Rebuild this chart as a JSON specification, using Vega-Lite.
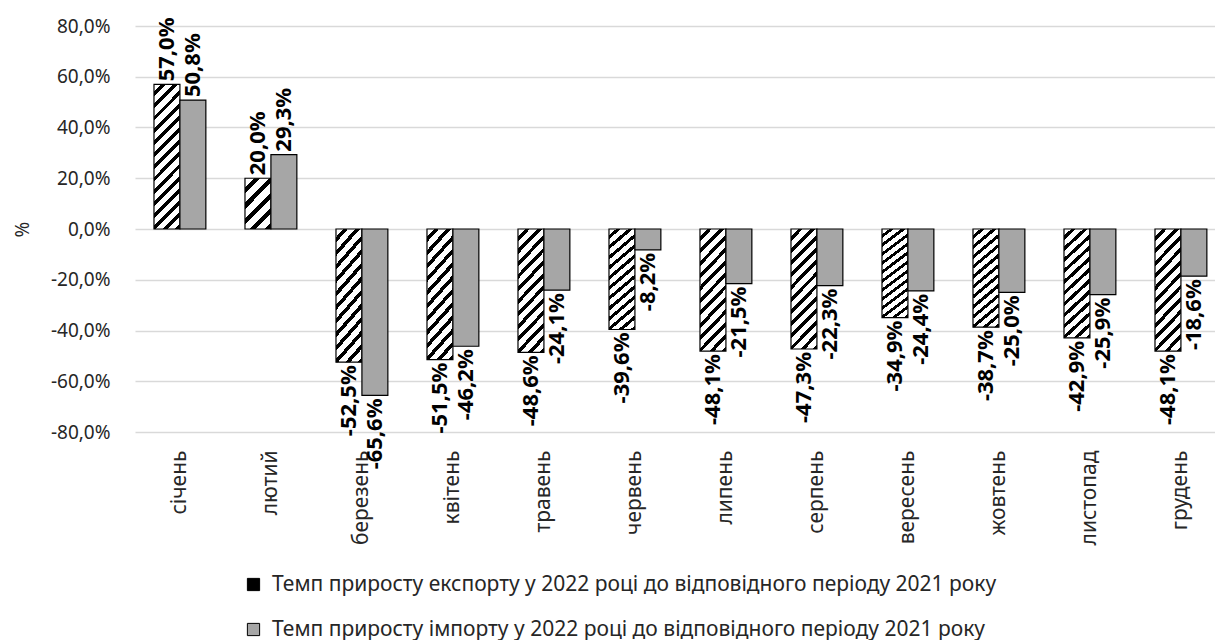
{
  "$schema": "https://vega.github.io/schema/vega-lite/v6.json",
  "width": 1080,
  "height": 406,
  "autosize": {"type": "none"},
  "padding": {"left": 135, "top": 26, "right": 0, "bottom": 208},
  "config": {
    "locale": {"number": {"decimal": ",", "thousands": " ", "grouping": [3], "currency": ["", ""], "minus": "-"}},
    "view": {"stroke": null},
    "font": "Noto Sans"
  },
  "data": {
    "values": [
      {"month": "січень", "series": "Темп приросту експорту у 2022 році до відповідного періоду 2021 року", "value": 0.570},
      {"month": "січень", "series": "Темп приросту імпорту у 2022 році до відповідного періоду 2021 року", "value": 0.508},
      {"month": "лютий", "series": "Темп приросту експорту у 2022 році до відповідного періоду 2021 року", "value": 0.200},
      {"month": "лютий", "series": "Темп приросту імпорту у 2022 році до відповідного періоду 2021 року", "value": 0.293},
      {"month": "березень", "series": "Темп приросту експорту у 2022 році до відповідного періоду 2021 року", "value": -0.525},
      {"month": "березень", "series": "Темп приросту імпорту у 2022 році до відповідного періоду 2021 року", "value": -0.656},
      {"month": "квітень", "series": "Темп приросту експорту у 2022 році до відповідного періоду 2021 року", "value": -0.515},
      {"month": "квітень", "series": "Темп приросту імпорту у 2022 році до відповідного періоду 2021 року", "value": -0.462},
      {"month": "травень", "series": "Темп приросту експорту у 2022 році до відповідного періоду 2021 року", "value": -0.486},
      {"month": "травень", "series": "Темп приросту імпорту у 2022 році до відповідного періоду 2021 року", "value": -0.241},
      {"month": "червень", "series": "Темп приросту експорту у 2022 році до відповідного періоду 2021 року", "value": -0.396},
      {"month": "червень", "series": "Темп приросту імпорту у 2022 році до відповідного періоду 2021 року", "value": -0.082},
      {"month": "липень", "series": "Темп приросту експорту у 2022 році до відповідного періоду 2021 року", "value": -0.481},
      {"month": "липень", "series": "Темп приросту імпорту у 2022 році до відповідного періоду 2021 року", "value": -0.215},
      {"month": "серпень", "series": "Темп приросту експорту у 2022 році до відповідного періоду 2021 року", "value": -0.473},
      {"month": "серпень", "series": "Темп приросту імпорту у 2022 році до відповідного періоду 2021 року", "value": -0.223},
      {"month": "вересень", "series": "Темп приросту експорту у 2022 році до відповідного періоду 2021 року", "value": -0.349},
      {"month": "вересень", "series": "Темп приросту імпорту у 2022 році до відповідного періоду 2021 року", "value": -0.244},
      {"month": "жовтень", "series": "Темп приросту експорту у 2022 році до відповідного періоду 2021 року", "value": -0.387},
      {"month": "жовтень", "series": "Темп приросту імпорту у 2022 році до відповідного періоду 2021 року", "value": -0.250},
      {"month": "листопад", "series": "Темп приросту експорту у 2022 році до відповідного періоду 2021 року", "value": -0.429},
      {"month": "листопад", "series": "Темп приросту імпорту у 2022 році до відповідного періоду 2021 року", "value": -0.259},
      {"month": "грудень", "series": "Темп приросту експорту у 2022 році до відповідного періоду 2021 року", "value": -0.481},
      {"month": "грудень", "series": "Темп приросту імпорту у 2022 році до відповідного періоду 2021 року", "value": -0.186}
    ]
  },
  "encoding": {
    "x": {
      "field": "month", "type": "nominal", "sort": null,
      "scale": {"paddingInner": 0.43, "paddingOuter": 0.149, "align": 0.7},
      "axis": {"title": null, "labelAngle": 270, "labelFontSize": 21, "labelColor": "#262626", "labelPadding": 18, "ticks": false, "tickSize": 0, "domain": false, "grid": false}
    },
    "xOffset": {"field": "series", "type": "nominal", "sort": null, "scale": {"paddingInner": 0, "paddingOuter": 0}},
    "y": {
      "field": "value", "type": "quantitative",
      "scale": {"domain": [-0.8, 0.8], "nice": false},
      "axis": {
        "title": "%", "titleFontSize": 19, "titleFontWeight": "normal", "titleColor": "#262626",
        "titleX": -113, "titleY": 203, "titleAngle": 270, "titleAlign": "center", "titleBaseline": "middle",
        "format": ".1%", "values": [-0.8, -0.6, -0.4, -0.2, 0, 0.2, 0.4, 0.6, 0.8],
        "labelFontSize": 19, "labelColor": "#262626", "labelPadding": 25, "ticks": false, "tickSize": 0, "domain": false,
        "gridColor": "#d9d9d9", "gridWidth": 1.3
      }
    }
  },
  "layer": [
    {
      "mark": {"type": "bar", "stroke": "#000000", "strokeWidth": 1.2},
      "encoding": {
        "fill": {
          "field": "series", "type": "nominal", "sort": null,
          "condition": [
            {
              "test": "indexof(datum.series, 'експорту') >= 0 && abs(datum.value) < 0.3",
              "value": {"gradient": "linear", "x1": 0, "y1": 0, "x2": 0.62, "y2": 1.2, "stops": [
                {"offset": 0, "color": "#ffffff"}, {"offset": 0.12, "color": "#ffffff"}, {"offset": 0.12, "color": "#000000"}, {"offset": 0.2, "color": "#000000"},
                {"offset": 0.2, "color": "#ffffff"}, {"offset": 0.32, "color": "#ffffff"}, {"offset": 0.32, "color": "#000000"}, {"offset": 0.4, "color": "#000000"},
                {"offset": 0.4, "color": "#ffffff"}, {"offset": 0.52, "color": "#ffffff"}, {"offset": 0.52, "color": "#000000"}, {"offset": 0.6, "color": "#000000"},
                {"offset": 0.6, "color": "#ffffff"}, {"offset": 0.72, "color": "#ffffff"}, {"offset": 0.72, "color": "#000000"}, {"offset": 0.8, "color": "#000000"},
                {"offset": 0.8, "color": "#ffffff"}, {"offset": 0.92, "color": "#ffffff"}, {"offset": 0.92, "color": "#000000"}, {"offset": 1, "color": "#000000"}
              ]}
            },
            {
              "test": "indexof(datum.series, 'експорту') >= 0 && datum.value > 0.5",
              "value": {"gradient": "linear", "x1": 0, "y1": 0, "x2": 0.206, "y2": 1.143, "stops": [
                {"offset": 0, "color": "#ffffff"}, {"offset": 0.043, "color": "#ffffff"}, {"offset": 0.043, "color": "#000000"}, {"offset": 0.071, "color": "#000000"},
                {"offset": 0.071, "color": "#ffffff"}, {"offset": 0.114, "color": "#ffffff"}, {"offset": 0.114, "color": "#000000"}, {"offset": 0.143, "color": "#000000"},
                {"offset": 0.143, "color": "#ffffff"}, {"offset": 0.186, "color": "#ffffff"}, {"offset": 0.186, "color": "#000000"}, {"offset": 0.214, "color": "#000000"},
                {"offset": 0.214, "color": "#ffffff"}, {"offset": 0.257, "color": "#ffffff"}, {"offset": 0.257, "color": "#000000"}, {"offset": 0.286, "color": "#000000"},
                {"offset": 0.286, "color": "#ffffff"}, {"offset": 0.329, "color": "#ffffff"}, {"offset": 0.329, "color": "#000000"}, {"offset": 0.357, "color": "#000000"},
                {"offset": 0.357, "color": "#ffffff"}, {"offset": 0.4, "color": "#ffffff"}, {"offset": 0.4, "color": "#000000"}, {"offset": 0.429, "color": "#000000"},
                {"offset": 0.429, "color": "#ffffff"}, {"offset": 0.471, "color": "#ffffff"}, {"offset": 0.471, "color": "#000000"}, {"offset": 0.5, "color": "#000000"},
                {"offset": 0.5, "color": "#ffffff"}, {"offset": 0.543, "color": "#ffffff"}, {"offset": 0.543, "color": "#000000"}, {"offset": 0.571, "color": "#000000"},
                {"offset": 0.571, "color": "#ffffff"}, {"offset": 0.614, "color": "#ffffff"}, {"offset": 0.614, "color": "#000000"}, {"offset": 0.643, "color": "#000000"},
                {"offset": 0.643, "color": "#ffffff"}, {"offset": 0.686, "color": "#ffffff"}, {"offset": 0.686, "color": "#000000"}, {"offset": 0.714, "color": "#000000"},
                {"offset": 0.714, "color": "#ffffff"}, {"offset": 0.757, "color": "#ffffff"}, {"offset": 0.757, "color": "#000000"}, {"offset": 0.786, "color": "#000000"},
                {"offset": 0.786, "color": "#ffffff"}, {"offset": 0.829, "color": "#ffffff"}, {"offset": 0.829, "color": "#000000"}, {"offset": 0.857, "color": "#000000"},
                {"offset": 0.857, "color": "#ffffff"}, {"offset": 0.9, "color": "#ffffff"}, {"offset": 0.9, "color": "#000000"}, {"offset": 0.929, "color": "#000000"},
                {"offset": 0.929, "color": "#ffffff"}, {"offset": 0.971, "color": "#ffffff"}, {"offset": 0.971, "color": "#000000"}, {"offset": 1, "color": "#000000"}
              ]}
            },
            {
              "test": "indexof(datum.series, 'експорту') >= 0",
              "value": {"gradient": "linear", "x1": 0, "y1": 0, "x2": 0.256, "y2": 1.164, "stops": [
                {"offset": 0, "color": "#ffffff"}, {"offset": 0.05, "color": "#ffffff"}, {"offset": 0.05, "color": "#000000"}, {"offset": 0.083, "color": "#000000"},
                {"offset": 0.083, "color": "#ffffff"}, {"offset": 0.133, "color": "#ffffff"}, {"offset": 0.133, "color": "#000000"}, {"offset": 0.167, "color": "#000000"},
                {"offset": 0.167, "color": "#ffffff"}, {"offset": 0.217, "color": "#ffffff"}, {"offset": 0.217, "color": "#000000"}, {"offset": 0.25, "color": "#000000"},
                {"offset": 0.25, "color": "#ffffff"}, {"offset": 0.3, "color": "#ffffff"}, {"offset": 0.3, "color": "#000000"}, {"offset": 0.333, "color": "#000000"},
                {"offset": 0.333, "color": "#ffffff"}, {"offset": 0.383, "color": "#ffffff"}, {"offset": 0.383, "color": "#000000"}, {"offset": 0.417, "color": "#000000"},
                {"offset": 0.417, "color": "#ffffff"}, {"offset": 0.467, "color": "#ffffff"}, {"offset": 0.467, "color": "#000000"}, {"offset": 0.5, "color": "#000000"},
                {"offset": 0.5, "color": "#ffffff"}, {"offset": 0.55, "color": "#ffffff"}, {"offset": 0.55, "color": "#000000"}, {"offset": 0.583, "color": "#000000"},
                {"offset": 0.583, "color": "#ffffff"}, {"offset": 0.633, "color": "#ffffff"}, {"offset": 0.633, "color": "#000000"}, {"offset": 0.667, "color": "#000000"},
                {"offset": 0.667, "color": "#ffffff"}, {"offset": 0.717, "color": "#ffffff"}, {"offset": 0.717, "color": "#000000"}, {"offset": 0.75, "color": "#000000"},
                {"offset": 0.75, "color": "#ffffff"}, {"offset": 0.8, "color": "#ffffff"}, {"offset": 0.8, "color": "#000000"}, {"offset": 0.833, "color": "#000000"},
                {"offset": 0.833, "color": "#ffffff"}, {"offset": 0.883, "color": "#ffffff"}, {"offset": 0.883, "color": "#000000"}, {"offset": 0.917, "color": "#000000"},
                {"offset": 0.917, "color": "#ffffff"}, {"offset": 0.967, "color": "#ffffff"}, {"offset": 0.967, "color": "#000000"}, {"offset": 1, "color": "#000000"}
              ]}
            }
          ],
          "scale": {
            "domain": ["Темп приросту експорту у 2022 році до відповідного періоду 2021 року", "Темп приросту імпорту у 2022 році до відповідного періоду 2021 року"],
            "range": ["#000000", "#a6a6a6"]
          },
          "legend": {
            "title": null, "orient": "none", "legendX": 108, "legendY": 548, "direction": "vertical",
            "symbolType": "square", "symbolSize": 150, "symbolStrokeColor": "#000000", "symbolStrokeWidth": 1,
            "labelFontSize": 21, "labelColor": "#262626", "labelLimit": 0, "rowPadding": 23, "labelOffset": 8, "padding": 0
          }
        }
      }
    },
    {
      "transform": [{"filter": "datum.value >= 0"}],
      "mark": {"type": "text", "angle": 270, "align": "left", "baseline": "middle", "dx": 3, "fontWeight": "bold", "fontSize": 22, "color": "#000000"},
      "encoding": {"text": {"field": "value", "type": "quantitative", "format": ".1%"}}
    },
    {
      "transform": [{"filter": "datum.value < 0"}],
      "mark": {"type": "text", "angle": 270, "align": "right", "baseline": "middle", "dx": -3, "fontWeight": "bold", "fontSize": 22, "color": "#000000"},
      "encoding": {"text": {"field": "value", "type": "quantitative", "format": ".1%"}}
    }
  ]
}
